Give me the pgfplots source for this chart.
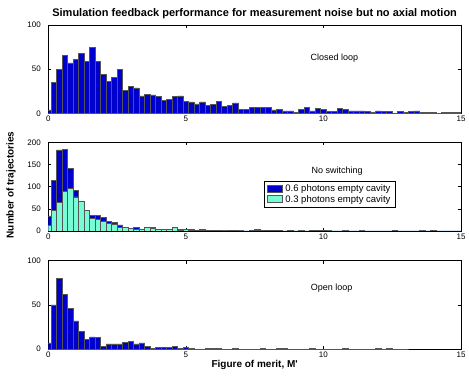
\documentclass[border=0pt]{standalone}
\usepackage{fontspec}
\setmainfont{Liberation Sans}
\usepackage{pgfplots}
\usepackage{pgfplotstable}
\pgfplotsset{compat=1.18}
\definecolor{barblue}{RGB}{0,0,205}
\definecolor{aqua}{RGB}{120,252,214}
\definecolor{edgegray}{RGB}{85,85,85}

\pgfplotstableread{
x y
0 4
0.2 35
0.4 50
0.6 66
0.8 57
1.0 61
1.2 68
1.4 59
1.6 75
1.8 59
2.0 44
2.2 36
2.4 41
2.6 50
2.8 26
3.0 31
3.2 29
3.4 20
3.6 22
3.8 21
4.0 19
4.2 15
4.4 16
4.6 19
4.8 20
5.0 14
5.2 13
5.4 11
5.6 13
5.8 9
6.0 10
6.2 14
6.4 8
6.6 9
6.8 12
7.0 5
7.2 5
7.4 7
7.6 7
7.8 7
8.0 7
8.2 4
8.4 5
8.6 3
8.8 3
9.0 1
9.2 5
9.4 7
9.6 3
9.8 6
10.0 5
10.2 2
10.4 2
10.6 6
10.8 5
11.0 3
11.2 3
11.4 3
11.6 2
11.8 1
12.0 3
12.2 2
12.4 2
12.6 0
12.8 2
13.0 1
13.2 2
13.4 3
13.6 1
13.8 1
14.0 1
14.2 0
14.4 1
14.6 1
14.8 1
15.0 1
}\tabclosed

\pgfplotstableread{
x b a
0 34 13
0.2 114 46
0.4 183 64
0.6 184 90
0.8 142 96
1.0 92 77
1.2 66 68
1.4 45 47
1.6 36 29
1.8 36 27
2.0 31 22
2.2 21 18
2.4 20 16
2.6 14 9
2.8 6 8
3.0 5 6
3.2 9 4
3.4 4 5
3.6 8 9
3.8 9 6
4.0 3 4
4.2 4 4
4.4 3 4
4.6 5 8
4.8 3 2
5.0 3 4
5.2 4 2
5.4 2 2
5.6 3 1
5.8 2 2
6.0 2 1
6.2 1 1
6.4 1 0
6.6 1 1
6.8 0 1
7.0 1 0
7.2 0 0
7.4 1 1
7.6 4 1
7.8 1 1
8.0 1 2
8.2 1 2
8.4 1 1
8.6 0 0
8.8 1 1
9.0 0 0
9.2 1 0
9.4 0 0
9.6 1 2
9.8 1 2
10.0 2 1
10.2 1 0
10.4 0 0
10.6 0 0
10.8 2 0
11.0 0 0
11.2 0 0
11.4 2 0
11.6 0 0
11.8 0 0
12.0 0 0
12.2 0 0
12.4 0 0
12.6 1 1
12.8 0 0
13.0 0 0
13.2 0 0
13.4 0 0
13.6 2 0
13.8 0 0
14.0 1 1
14.2 0 0
14.4 0 0
14.6 0 0
14.8 0 0
15.0 0 0
}\tabswitch

\pgfplotstableread{
x y
0 7
0.2 50
0.4 80
0.6 62
0.8 46
1.0 32
1.2 20
1.4 11
1.6 14
1.8 13
2.0 3
2.2 6
2.4 6
2.6 6
2.8 8
3.0 9
3.2 6
3.4 7
3.6 3
3.8 1
4.0 2
4.2 2
4.4 2
4.6 3
4.8 1
5.0 2
5.2 1
5.4 0
5.6 0
5.8 1
6.0 1
6.2 1
6.4 0
6.6 0
6.8 1
7.0 0
7.2 0
7.4 0
7.6 0
7.8 1
8.0 0
8.2 0
8.4 1
8.6 1
8.8 0
9.0 0
9.2 0
9.4 0
9.6 1
9.8 0
10.0 0
10.2 0
10.4 0
10.6 0
10.8 1
11.0 0
11.2 0
11.4 0
11.6 0
11.8 0
12.0 1
12.2 0
12.4 1
12.6 0
12.8 0
13.0 0
}\tabopen

\pgfplotsset{
  panel/.style={
    scale only axis, width=412.7pt, height=88.6pt,
    xmin=0, xmax=15, xtick={0,5,10,15},
    tick align=inside, major tick length=3pt,
    axis line style={black, line width=0.5pt},
    every tick/.style={black, line width=0.5pt},
    /pgf/number format/assume math mode=true,
    ticklabel style={font=\fontsize{8}{9}\selectfont},
    xticklabel style={yshift=1pt},
    yticklabel style={xshift=-4pt},
    anchor=south west,
  },
  hbar/.style={ybar, bar width=0.2, bar shift=0pt, draw=edgegray, line width=0.5pt},
}

\begin{document}
\begin{tikzpicture}
\useasboundingbox (0pt,0pt) rectangle (469pt,378pt);

\begin{axis}[panel, at={(48.3pt,264.5pt)},
  ymin=0, ymax=100, ytick={0,50,100},
  title={Simulation feedback performance for measurement noise but no axial motion},
  every axis title/.style={at={(axis description cs:0.5,1.13)}, anchor=center,
    font=\bfseries\fontsize{11}{13}\selectfont},
]
\addplot[hbar, fill=barblue] table[x=x,y=y]{\tabclosed};
\node[font=\fontsize{9}{10}\selectfont] at (axis cs:10.4,62.6) {Closed loop};
\end{axis}

\begin{axis}[panel, at={(48.3pt,147pt)},
  ymin=0, ymax=200, ytick={0,50,100,150,200},
  every axis y label/.style={at={(axis description cs:-0.0905,0.52)}, rotate=90, anchor=center,
    font=\bfseries\fontsize{10}{12}\selectfont},
  ylabel={Number of trajectories},
  legend style={at={(axis description cs:0.523,0.562)}, anchor=north west, draw=black,
    line width=0.5pt, font=\fontsize{9.5}{10.5}\selectfont, inner xsep=3pt, inner ysep=1.2pt,
    row sep=-1.8pt, column sep=1pt, cells={anchor=west}, fill=white},
  legend image code/.code={\draw[#1, line width=0.5pt] (0pt,-3pt) rectangle (14.5pt,3.8pt);},
]
\addplot[hbar, fill=barblue] table[x=x,y=b]{\tabswitch};
\addlegendentry{0.6 photons empty cavity}
\addplot[hbar, fill=aqua] table[x=x,y=a]{\tabswitch};
\addlegendentry{0.3 photons empty cavity}
\node[font=\fontsize{9}{10}\selectfont] at (axis cs:10.5,135) {No switching};
\end{axis}

\begin{axis}[panel, at={(48.3pt,28.8pt)},
  ymin=0, ymax=100, ytick={0,50,100},
  every axis x label/.style={at={(axis description cs:0.5,-0.178)}, anchor=center,
    font=\bfseries\fontsize{10}{12}\selectfont},
  xlabel={Figure of merit, M\textquotesingle},
]
\addplot[hbar, fill=barblue] table[x=x,y=y]{\tabopen};
\node[font=\fontsize{9}{10}\selectfont] at (axis cs:10.3,69) {Open loop};
\end{axis}
\end{tikzpicture}
\end{document}
